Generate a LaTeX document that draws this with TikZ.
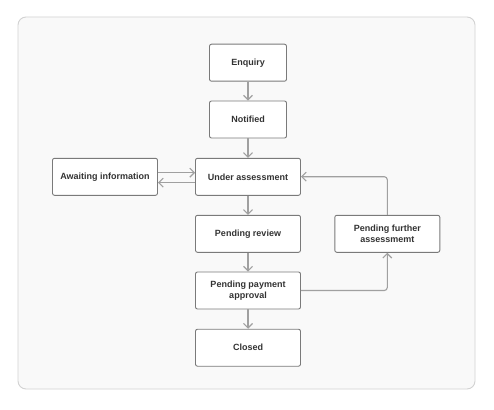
\documentclass[tikz,border=0pt]{standalone}
\usepackage{fontspec}
\setmainfont{Liberation Sans}
\usetikzlibrary{arrows.meta}
\definecolor{panelfill}{HTML}{F9F9F9}
\definecolor{panelline}{HTML}{D2D2D2}
\definecolor{boxline}{HTML}{7A7A7A}
\definecolor{arrowline}{HTML}{A0A0A0}
\definecolor{textcol}{HTML}{333333}
\begin{document}
\begin{tikzpicture}[x=1pt,y=-1pt,
  statebox/.style={draw=boxline,line width=0.9pt,fill=white,rounded corners=2pt,
    minimum height=37pt,align=center,font=\fontsize{9}{11}\selectfont\bfseries,text=textcol,inner sep=0pt},
  smallbox/.style={statebox,minimum width=77pt},
  widebox/.style={statebox,minimum width=105pt},
  flow/.style={draw=arrowline,line width=1.1pt,-{Straight Barb[length=4.5pt,width=9pt,line width=1.1pt]},rounded corners=3pt}]
\useasboundingbox (0,0) rectangle (494,409);
\fill[white] (0,0) rectangle (494,409);
\draw[draw=panelline,fill=panelfill,line width=0.9pt,rounded corners=8pt] (18,17) rectangle (475,389);
\node[smallbox] (enq) at (248,62.7) {Enquiry};
\node[smallbox] (not) at (248,119.5) {Notified};
\node[widebox] (ua) at (248,176.8) {Under assessment};
\node[widebox] (ai) at (105,176.8) {Awaiting information};
\node[widebox] (pr) at (248,233.8) {Pending review};
\node[widebox] (ppa) at (248,290.5) {Pending payment\\approval};
\node[widebox] (cl) at (248,347.7) {Closed};
\node[widebox] (pfa) at (387.3,233.8) {Pending further\\assessmemt};
\draw[flow] (enq) -- (not);
\draw[flow] (not) -- (ua);
\draw[flow] (ua) -- (pr);
\draw[flow] (pr) -- (ppa);
\draw[flow] (ppa) -- (cl);
\draw[flow] (ai.east |- 0,172.7) -- (ua.west |- 0,172.7);
\draw[flow] (ua.west |- 0,182.7) -- (ai.east |- 0,182.7);
\draw[flow] (ppa.east) -| (pfa.south);
\draw[flow] (pfa.north) |- (ua.east |- 0,176.7);
\end{tikzpicture}
\end{document}
